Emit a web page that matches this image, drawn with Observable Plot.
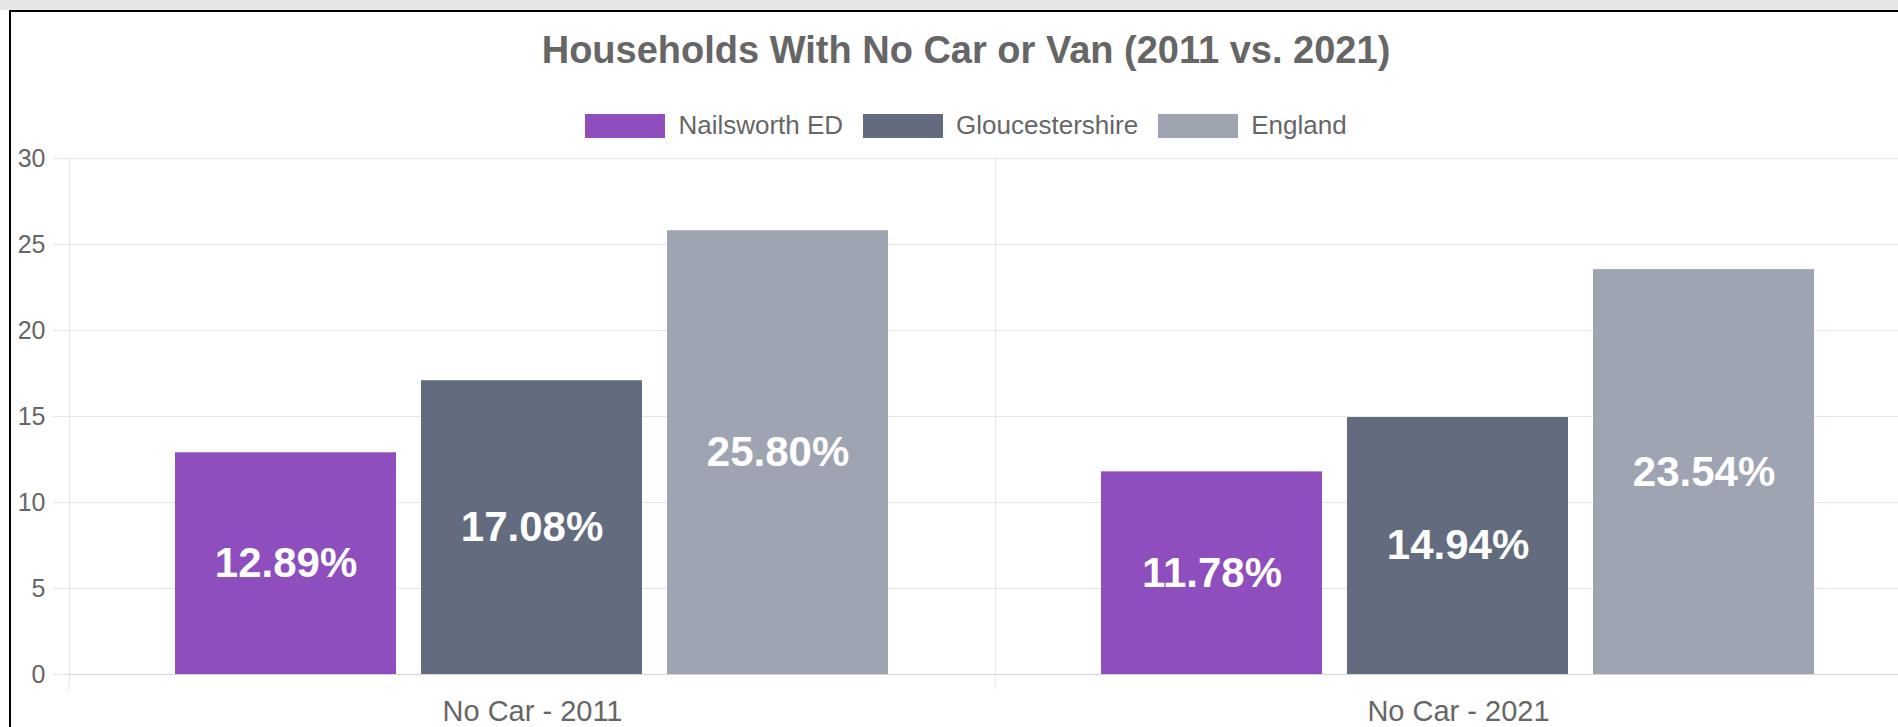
<!DOCTYPE html>
<html>
<head>
<meta charset="utf-8">
<script src="https://cdn.jsdelivr.net/npm/d3@7"></script>
<script src="https://cdn.jsdelivr.net/npm/@observablehq/plot@0.6"></script>
<style>
  html, body { margin: 0; padding: 0; overflow: hidden; background: #fff; }
  .band { height: 10px; background: #e6e6e6; width: 100%; }
  .box { margin-left: 9px; border-left: 2px solid #000; border-top: 2px solid #000; width: 1910px; background: #fff; }
  .title { font: bold 38px "Liberation Sans", Arial, sans-serif; height: 76px; line-height: 76px; text-align: center; color: #666; white-space: nowrap; }
  .legend { font: 26px "Liberation Sans", Arial, sans-serif; height: 74px; margin-bottom: -14px; display: flex; justify-content: center; align-items: center; color: #666; position: relative; z-index: 1; }
  .item { display: flex; align-items: center; margin: 0 10px; }
  .sw { width: 80px; height: 24px; margin-right: 13px; margin-top: 2px; }
  g[aria-label^="fx-axis"] text { font-size: 29px; }
</style>
</head>
<body>
<div class="band"></div>
<div class="box">
  <div class="title" id="title"></div>
  <div class="legend" id="legend"></div>
  <div id="chart"></div>
</div>
<script>
const titleText = "Households With No Car or Van (2011 vs. 2021)";
const categories = ["No Car - 2011", "No Car - 2021"];
const series = ["Nailsworth ED", "Gloucestershire", "England"];
const nailsworth = [12.89, 11.78];
const gloucestershire = [17.08, 14.94];
const england = [25.80, 23.54];
const colors = ["#8e4ebd", "#626c7e", "#9ea4b1"];
const yTicks = [0, 5, 10, 15, 20, 25, 30];

const seriesValues = [nailsworth, gloucestershire, england];
const rows = [];
categories.forEach((c, ci) => {
  series.forEach((s, si) => rows.push({category: c, series: s, value: seriesValues[si][ci]}));
});

document.getElementById("title").textContent = titleText;
const legend = document.getElementById("legend");
series.forEach((s, i) => {
  const it = document.createElement("div");
  it.className = "item";
  const sw = document.createElement("div");
  sw.className = "sw";
  sw.style.background = colors[i];
  const lb = document.createElement("span");
  lb.textContent = s;
  it.appendChild(sw); it.appendChild(lb);
  legend.appendChild(it);
});

const W = 1910, mL = 57, mR = 0;
const band = (W - mL - mR) / categories.length;
const gridColor = "#e6e6e6";

const chart = Plot.plot({
  width: W,
  height: 586,
  marginTop: 10,
  marginBottom: 60,
  marginLeft: mL,
  marginRight: mR,
  style: {fontFamily: "'Liberation Sans', Arial, sans-serif", fontSize: "25px", color: "#666", background: "transparent", overflow: "visible"},
  facet: {data: rows, x: "category"},
  fx: {domain: categories, padding: 0, axis: "bottom", label: null, tickSize: 0, tickPadding: 26},
  x: {domain: series, paddingInner: 0.1, paddingOuter: 0.425, axis: null},
  y: {domain: [0, 30], ticks: yTicks, tickSize: 0, tickPadding: 24, label: null},
  color: {domain: series, range: colors},
  marks: [
    Plot.ruleY(yTicks, {stroke: gridColor, insetLeft: -16}),
    Plot.frame({stroke: gridColor}),
    Plot.ruleX([0], {x: null, y1: 0, insetBottom: -16, dx: -band / 2, stroke: gridColor}),
    Plot.ruleY([0], {stroke: "#d4d4d4"}),
    Plot.barY(rows, {x: "series", y: "value", fill: "series"}),
    Plot.text(rows, {x: "series", y: d => d.value / 2, text: d => d.value.toFixed(2) + "%", fill: "white", fontSize: 42, fontWeight: "bold"})
  ]
});
document.getElementById("chart").appendChild(chart);
</script>
</body>
</html>
